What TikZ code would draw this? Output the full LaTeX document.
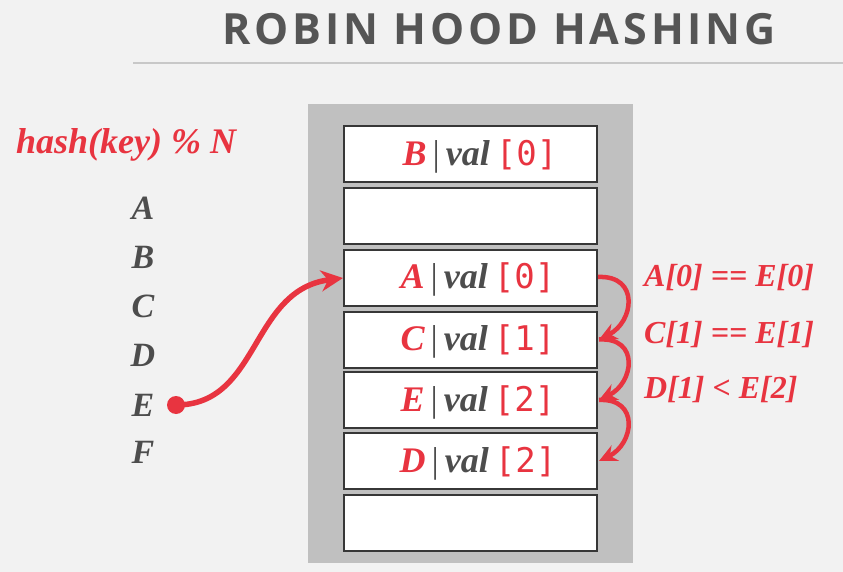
\documentclass[tikz,border=0pt]{standalone}
\usepackage{fontspec}
\setmainfont{Liberation Serif}
\setmonofont{DejaVu Sans Mono}
\newfontfamily\titlefont[LetterSpace=9]{Open Sans}
\usetikzlibrary{arrows.meta,calc}
\definecolor{hred}{RGB}{232,52,64}
\definecolor{hgray}{RGB}{77,77,77}
\definecolor{tgray}{RGB}{85,85,85}
\definecolor{bgc}{RGB}{242,242,242}
\definecolor{panelc}{RGB}{192,192,192}
\definecolor{boxc}{RGB}{55,55,55}
\definecolor{rulec}{RGB}{200,200,200}
\newcommand{\bx}[2]{{\color{hred}\bfseries\itshape #1}{\color{hgray}\,|\,}{\color{hgray}\bfseries\itshape val}\hspace{6pt}{\color{hred}\ttfamily\fontsize{34}{36}\selectfont[#2]}}
\tikzset{
  slot/.style={draw=boxc, line width=2pt, fill=white, minimum width=253pt, minimum height=56pt, inner sep=0pt},
  slottext/.style={font=\fontsize{36}{40}\selectfont, inner sep=0pt},
  keyletter/.style={text=hgray, font=\fontsize{34}{38}\selectfont\bfseries\itshape, inner sep=0pt},
  cmp/.style={text=hred, font=\fontsize{32}{36}\selectfont\bfseries\itshape, inner sep=0pt, anchor=west},
  bigarrow/.style={draw=hred, line width=5.5pt, -{Stealth[length=22pt,width=21pt,inset=7pt]}},
  redarrow/.style={draw=hred, line width=4.5pt, -{Stealth[length=18pt,width=17pt,inset=6pt]}},
}
\begin{document}
\begin{tikzpicture}[x=1pt,y=-1pt]
\fill[bgc] (0,0) rectangle (843,572);
\useasboundingbox (0,0) rectangle (843,572);
% title
\node[text=tgray, font=\titlefont\fontsize{43}{48}\selectfont\bfseries, inner sep=0pt] (title) at (499,29) {ROBIN HOOD HASHING};
\draw[rulec, line width=2.5pt] (133,63) -- (843,63);
% panel
\fill[panelc] (308,104) rectangle (633,563);
% slots
\node[slot] (b1) at (470.5,154) {};
\node[slot] (b2) at (470.5,216) {};
\node[slot] (b3) at (470.5,278) {};
\node[slot] (b4) at (470.5,339.5) {};
\node[slot] (b5) at (470.5,400) {};
\node[slot] (b6) at (470.5,461) {};
\node[slot] (b7) at (470.5,523) {};
\node[slottext] (t1) at (480,156) {\bx{B}{0}};
\node[slottext] (t3) at (478,279) {\bx{A}{0}};
\node[slottext] (t4) at (478,341) {\bx{C}{1}};
\node[slottext] (t5) at (478,402) {\bx{E}{2}};
\node[slottext] (t6) at (478,463) {\bx{D}{2}};
% left
\node[text=hred, font=\fontsize{36}{40}\selectfont\bfseries\itshape, inner sep=0pt, anchor=west] (hash) at (16,145) {hash(key) \% N};
\node[keyletter] (kA) at (143,208) {A};
\node[keyletter] (kB) at (143,257) {B};
\node[keyletter] (kC) at (143,306) {C};
\node[keyletter] (kD) at (143,355) {D};
\node[keyletter] (kE) at (143,405) {E};
\node[keyletter] (kF) at (143,452) {F};
\node[circle, fill=hred, minimum size=18pt, inner sep=0pt] (dot) at (176,405) {};
\draw[bigarrow] (dot.center) .. controls (260,405) and (250,290) .. (b3.west);
% right arcs
\draw[redarrow] ($(b3.east)+(0,-1)$) .. controls (640,275) and (634,322) .. ($(b4.east)+(1,0)$);
\draw[redarrow] ($(b4.east)+(1,0)$) .. controls (640,337) and (634,383) .. ($(b5.east)+(1,0)$);
\draw[redarrow] ($(b5.east)+(1,0)$) .. controls (640,398) and (634,444) .. ($(b6.east)+(1,0)$);
\node[cmp] (c1) at (644,278) {A[0] == E[0]};
\node[cmp] (c2) at (644,335) {C[1] == E[1]};
\node[cmp] (c3) at (644,390) {D[1] < E[2]};
\end{tikzpicture}
\end{document}
